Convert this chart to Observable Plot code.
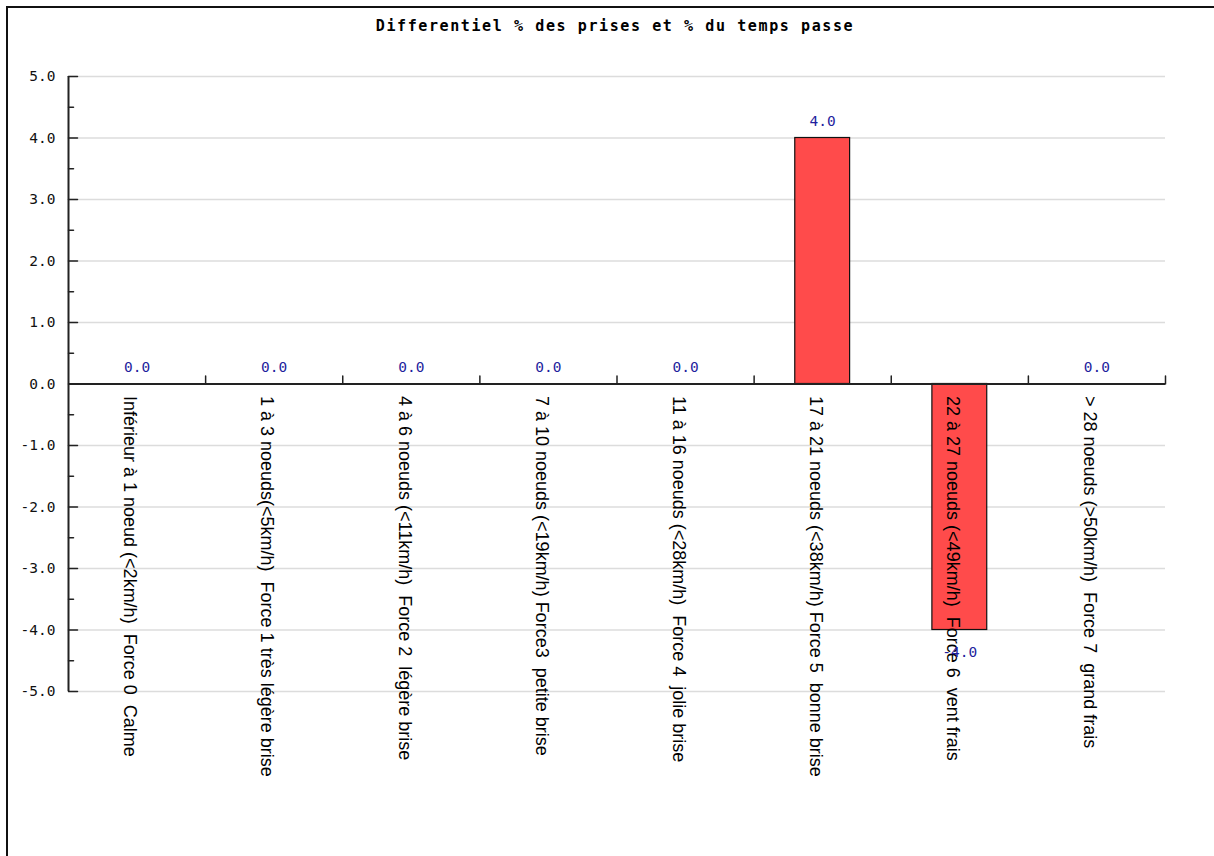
<!DOCTYPE html>
<html>
<head>
<meta charset="utf-8">
<script src="https://cdn.jsdelivr.net/npm/d3@7"></script>
<script src="https://cdn.jsdelivr.net/npm/@observablehq/plot@0.6"></script>
<style>
  html, body { margin: 0; padding: 0; background: #fff; }
  #wrap { position: relative; width: 1214px; height: 856px; overflow: hidden; background: #fff; }
  #frame { position: absolute; left: 6px; top: 6px; width: 1220px; height: 860px; border-left: 2px solid #111; border-top: 2px solid #111; }
  #title { position: absolute; left: 8px; top: 16px; width: 1214px; text-align: center;
           font-family: "DejaVu Sans Mono", monospace; font-weight: bold; font-size: 15px;
           letter-spacing: 1.6px; line-height: 20px; color: #000; }
  #chart { position: absolute; left: 0; top: 0; }
</style>
</head>
<body>
<div id="wrap">
  <div id="chart"></div>
  <div id="frame"></div>
  <div id="title">Differentiel % des prises et % du temps passe</div>
</div>
<script>
const categories = [
  "Inférieur à 1 noeud (<2km/h)  Force 0  Calme",
  "1 à 3 noeuds(<5km/h)  Force 1 très légère brise",
  "4 à 6 noeuds (<11km/h)  Force 2  légère brise",
  "7 à 10 noeuds (<19km/h) Force3  petite brise",
  "11 à 16 noeuds (<28km/h)  Force 4  jolie brise",
  "17 à 21 noeuds (<38km/h) Force 5  bonne brise",
  "22 à 27 noeuds (<49km/h)  Force 6  vent frais",
  "> 28 noeuds (>50km/h)  Force 7  grand frais"
];
const values = [0.0, 0.0, 0.0, 0.0, 0.0, 4.0, -4.0, 0.0];
const yTicks = [-5, -4, -3, -2, -1, 0, 1, 2, 3, 4, 5];
const yMinorTicks = [-4.5, -3.5, -2.5, -1.5, -0.5, 0.5, 1.5, 2.5, 3.5, 4.5];

const data = categories.map((c, i) => ({i, c, v: values[i]}));
const bounds = d3.range(1, categories.length + 1);

const lineShape = {draw(ctx, l) { ctx.moveTo(0, 0); ctx.lineTo(0, -l); }};
const mono = "DejaVu Sans Mono";
const blue = "#1f1f9e";

const chart = Plot.plot({
  width: 1214,
  height: 856,
  marginLeft: 68,
  marginRight: 49,
  marginTop: 76,
  marginBottom: 165,
  style: {background: "transparent", overflow: "visible"},
  x: {domain: [0, categories.length], axis: null},
  y: {domain: [-5, 5], axis: null},
  marks: [
    Plot.gridY(yTicks.filter(d => d !== 0), {stroke: "#dcdcdc", strokeOpacity: 1, strokeWidth: 1.5}),
    Plot.rectY(data.filter(d => d.v !== 0), {
      x1: d => d.i + 0.3, x2: d => d.i + 0.7, y1: 0, y2: "v",
      fill: "#ff4b4b", stroke: "#111", strokeWidth: 1.2
    }),
    Plot.ruleX([0], {stroke: "#222", strokeWidth: 2}),
    Plot.ruleY([0], {stroke: "#222", strokeWidth: 2}),
    Plot.vector(yTicks, {x: 0, y: d => d, rotate: 90, length: 9, anchor: "start", shape: lineShape, stroke: "#222", strokeWidth: 1.5}),
    Plot.vector(yMinorTicks, {x: 0, y: d => d, rotate: 90, length: 5, anchor: "start", shape: lineShape, stroke: "#222", strokeWidth: 1.5}),
    Plot.vector(bounds, {x: d => d, y: 0, rotate: 0, length: 8, anchor: "start", shape: lineShape, stroke: "#222", strokeWidth: 1.5}),
    Plot.axisY({ticks: yTicks, tickSize: 0, tickPadding: 13, tickFormat: d => d.toFixed(1), label: null,
      fontFamily: mono, fontSize: 14.5, fill: "#111"}),
    Plot.text(data, {
      x: d => d.i + 0.5, y: 0, text: "c", rotate: 90, textAnchor: "start", dy: 12, dx: -7,
      fontFamily: "Liberation Sans", fontSize: 18, fill: "#000"
    }),
    Plot.text(data.filter(d => d.v >= 0), {
      x: d => d.i + 0.5, y: "v", text: d => d.v.toFixed(1), dy: -17,
      fontFamily: mono, fontSize: 14.5, fill: blue
    }),
    Plot.text(data.filter(d => d.v < 0), {
      x: d => d.i + 0.5, y: "v", text: d => d.v.toFixed(1), dy: 22,
      fontFamily: mono, fontSize: 14.5, fill: blue
    })
  ]
});
document.getElementById("chart").appendChild(chart);
</script>
</body>
</html>
